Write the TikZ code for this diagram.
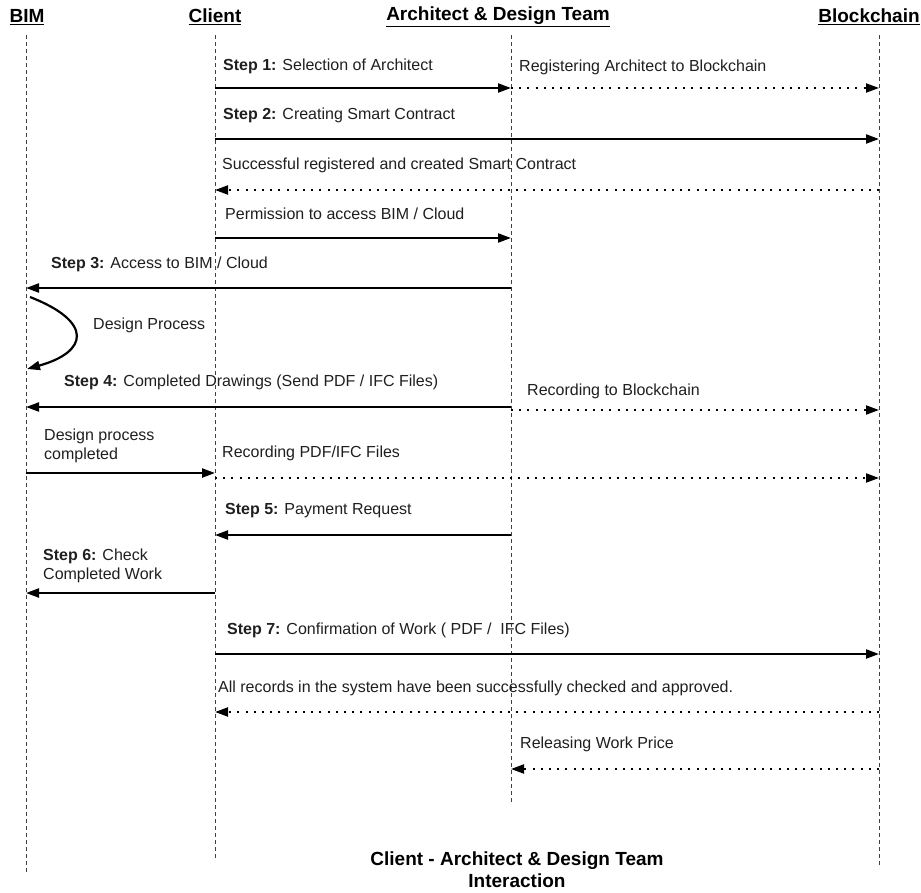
\documentclass[tikz,border=0pt]{standalone}
\usepackage{fontspec}
\setmainfont{Liberation Sans}
\usetikzlibrary{arrows.meta}
\begin{document}
\begin{tikzpicture}[x=1pt,y=-1pt,
  head/.style={font=\fontsize{19}{22}\selectfont\bfseries, inner sep=0pt},
  lbl/.style={font=\fontsize{16}{19}\selectfont, inner sep=0pt, anchor=west, text=black!88, align=left},
  life/.style={draw=black!75, line width=0.8pt, dash pattern=on 4pt off 3pt},
  tip/.style={-{Triangle[length=13pt,width=9pt]}},
  msg/.style={line width=2.2pt, draw=black, tip},
  ret/.style={line width=2pt, draw=black, dash pattern=on 2pt off 6.2pt, tip}]
\useasboundingbox (0,0) rectangle (921,892);

% participants
\node[head] (bim) at (27,17) {\underline{BIM}};
\node[head] (cli) at (215,17) {\underline{Client}};
\node[head] (arc) at (498,17) {\underline{Architect \& Design Team}};
\node[head] (blk) at (869,17) {\underline{Blockchain}};

% lifeline anchors
\coordinate (bimL) at (26,35);
\coordinate (cliL) at (215,35);
\coordinate (arcL) at (511,35);
\coordinate (blkL) at (879,35);
\draw[life] (bimL) -- (bimL |- 0,873);
\draw[life] (cliL) -- (cliL |- 0,860);
\draw[life] (arcL) -- (arcL |- 0,802);
\draw[life] (blkL) -- (blkL |- 0,868);

% step 1
\node[lbl] (t1) at (223,66) {\textbf{Step 1:} Selection of Architect};
\draw[msg] (cliL |- 0,88) -- (arcL |- 0,88);
\node[lbl] (t1b) at (519,67) {Registering Architect to Blockchain};
\draw[ret] (arcL |- 0,88) -- (blkL |- 0,88);

% step 2
\node[lbl] (t2) at (223,115) {\textbf{Step 2:} Creating Smart Contract};
\draw[msg] (cliL |- 0,139) -- (blkL |- 0,139);
\node[lbl] (t2b) at (222,165) {Successful registered and created Smart Contract};
\draw[ret] (blkL |- 0,190) -- (cliL |- 0,190);

\node[lbl] (t2c) at (225,214) {Permission to access BIM / Cloud};
\draw[msg] (cliL |- 0,238) -- (arcL |- 0,238);

% step 3
\node[lbl] (t3) at (51,264) {\textbf{Step 3:} Access to BIM / Cloud};
\draw[msg] (arcL |- 0,288) -- (bimL |- 0,288);

% design loop
\node[lbl] (dp) at (93,325) {Design Process};
\draw[line width=2.2pt, draw=black, tip]
  (30,297) .. controls (94,322) and (88,352) .. (27,369);

% step 4
\node[lbl] (t4) at (64,382) {\textbf{Step 4:} Completed Drawings (Send PDF / IFC Files)};
\draw[msg] (arcL |- 0,407) -- (bimL |- 0,407);
\node[lbl] (t4b) at (527,391) {Recording to Blockchain};
\draw[ret] (arcL |- 0,410) -- (blkL |- 0,410);

\node[lbl] (dc) at (44,446) {Design process\\completed};
\draw[msg] (bimL |- 0,473) -- (cliL |- 0,473);
\node[lbl] (rec) at (222,453) {Recording PDF/IFC Files};
\draw[ret] (cliL |- 0,478) -- (blkL |- 0,478);

% step 5
\node[lbl] (t5) at (225,511) {\textbf{Step 5:} Payment Request};
\draw[msg] (arcL |- 0,535) -- (cliL |- 0,535);

% step 6
\node[lbl] (t6) at (43,566) {\textbf{Step 6:} Check\\Completed Work};
\draw[msg] (cliL |- 0,593) -- (bimL |- 0,593);

% step 7
\node[lbl] (t7) at (227,630) {\textbf{Step 7:} Confirmation of Work ( PDF /~ IFC Files)};
\draw[msg] (cliL |- 0,654) -- (blkL |- 0,654);
\node[lbl] (ok) at (218,688) {All records in the system have been successfully checked and approved.};
\draw[ret] (blkL |- 0,712) -- (cliL |- 0,712);

\node[lbl] (pay) at (520,744) {Releasing Work Price};
\draw[ret] (blkL |- 0,769) -- (arcL |- 0,769);

% caption
\node[head, align=center] (cap) at (517,870) {Client - Architect \& Design Team\\Interaction};
\end{tikzpicture}
\end{document}
